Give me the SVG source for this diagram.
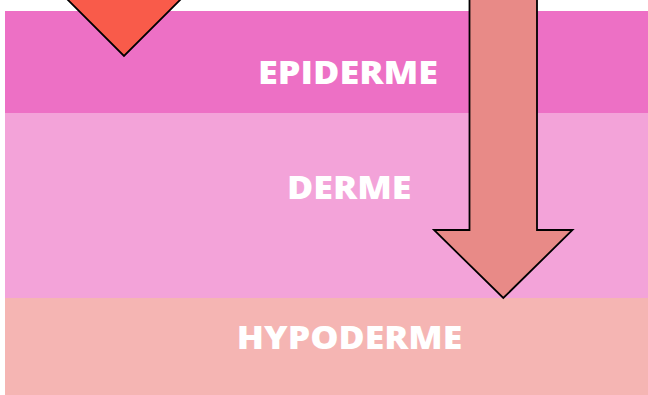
<svg xmlns="http://www.w3.org/2000/svg" width="648" height="395" viewBox="0 0 648 395">
  <style>
    .lbl { font-family: "Open Sans", "Liberation Sans", sans-serif; font-weight: 800; font-size: 31px; fill: #ffffff; }
    .shape { stroke: #000000; stroke-width: 1.8; stroke-linejoin: miter; }
  </style>
  <rect x="0" y="0" width="648" height="395" fill="#ffffff"/>
  <g id="epiderme">
    <rect x="5" y="11" width="643" height="102" fill="#ED70C5"/>
    <text class="lbl" x="258" y="84.3" textLength="180" lengthAdjust="spacingAndGlyphs">EPIDERME</text>
  </g>
  <g id="derme">
    <rect x="5" y="113" width="643" height="185" fill="#F3A3D9"/>
    <text class="lbl" x="287" y="199.3" textLength="124.5" lengthAdjust="spacingAndGlyphs">DERME</text>
  </g>
  <g id="hypoderme">
    <rect x="5" y="298" width="643" height="97" fill="#F5B5B3"/>
    <text class="lbl" x="236.8" y="349" textLength="225.5" lengthAdjust="spacingAndGlyphs">HYPODERME</text>
  </g>
  <g id="connectors">
    <polygon id="triangle" class="shape" fill="#F95B4A" points="50,-18 198,-18 124,56"/>
    <polygon id="arrow" class="shape" fill="#E88A87" points="469.5,-5 537,-5 537,230 572.5,230 503.3,298 434,230 469.5,230"/>
  </g>
</svg>
